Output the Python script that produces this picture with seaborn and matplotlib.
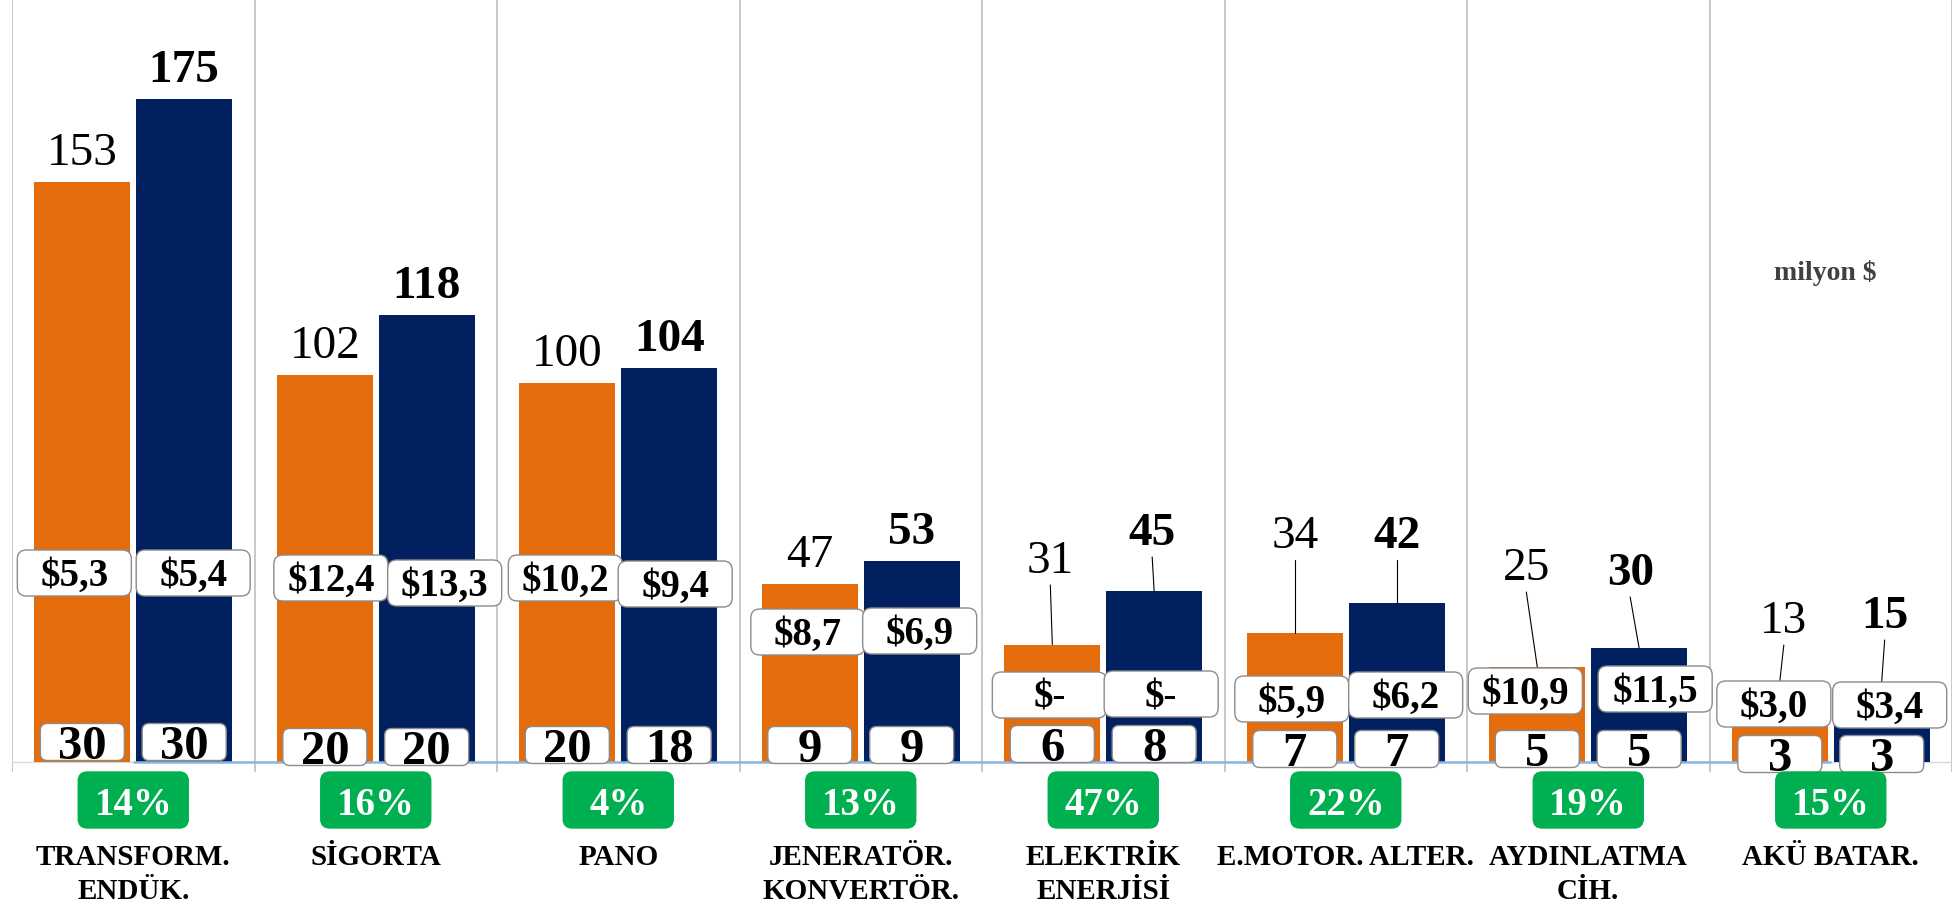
import matplotlib
matplotlib.use("Agg")
import matplotlib.pyplot as plt
from matplotlib.patches import FancyBboxPatch
import numpy as np
import pandas as pd
import seaborn as sns

# chart values
kategoriler = ["TRANSFORM.\nENDÜK.", "SİGORTA", "PANO", "JENERATÖR.\nKONVERTÖR.",
               "ELEKTRİK\nENERJİSİ", "E.MOTOR. ALTER.", "AYDINLATMA\nCİH.", "AKÜ BATAR."]
donemler = ["Önceki", "Son"]
deger_onceki = [153, 102, 100, 47, 31, 34, 25, 13]
deger_son = [175, 118, 104, 53, 45, 42, 30, 15]
dolar_onceki = ["$5,3", "$12,4", "$10,2", "$8,7", "$-", "$5,9", "$10,9", "$3,0"]
dolar_son = ["$5,4", "$13,3", "$9,4", "$6,9", "$-", "$6,2", "$11,5", "$3,4"]
adet_onceki = [30, 20, 20, 9, 6, 7, 5, 3]
adet_son = [30, 20, 18, 9, 8, 7, 5, 3]
degisim = ["14%", "16%", "4%", "13%", "47%", "22%", "19%", "15%"]

# label layout (pixel rows / pixel shifts, as placed in the original)
etiket_y_onceki = [None, None, None, None, 573, 548, 580, 633]
etiket_y_son = [None, None, None, None, 545, 548, 585, 628]
etiket_dx_onceki = [0, 0, 0, 0, -2, 0, -11, 4]
etiket_dx_son = [0, 0, 0, 0, -2, 0, -9, 3]
dolar_y_onceki = [573, 578, 578, 632, 695, 699, 691, 704]
dolar_y_son = [573, 583, 584, 631, 694, 695, 689, 705]
dolar_dx_onceki = [-8, 6, -2, -2, -3, -3, -12, -6]
dolar_dx_son = [9, 18, 6, 8, 7, 9, 16, 8]
adet_y = [742, 747, 745, 745, 744, 749, 749, 754]

TURUNCU = "#E46C0A"
LACIVERT = "#002060"
YESIL = "#00B050"
KENAR = "#8C8C8C"

W, H = 1953, 905
TABAN = 762          # baseline row in pixels
PX_Y = 3.79          # pixels per value unit
SOL = 12
PX_X = (W - 1 - SOL) / len(kategoriler)

sns.set_style("white")
plt.rcParams['font.family'] = ['Liberation Serif', 'DejaVu Serif']

fig = plt.figure(figsize=(W / 100, H / 100), dpi=100)
ax = fig.add_axes([SOL / W, 0, PX_X * len(kategoriler) / W, 1])

df = pd.DataFrame({
    "kategori": kategoriler * 2,
    "donem": [donemler[0]] * len(kategoriler) + [donemler[1]] * len(kategoriler),
    "deger": deger_onceki + deger_son,
})
sns.barplot(data=df, x="kategori", y="deger", hue="donem", palette=[TURUNCU, LACIVERT],
            width=0.84, gap=0.06, saturation=1, errorbar=None, legend=False,
            linewidth=0, ax=ax, zorder=2)

ax.set_xlim(-0.5, len(kategoriler) - 0.5)
ax.set_ylim(-(H - TABAN) / PX_Y, TABAN / PX_Y)
ax.axis("off")


def ypx(p):
    return (TABAN - p) / PX_Y


# category separators and base line
ax.vlines(np.arange(-0.5, len(kategoriler), 1), ypx(772), TABAN / PX_Y,
          colors="#BFBFBF", lw=1.2, zorder=0)
ax.hlines(0, -0.5, len(kategoriler) - 0.5, colors="#D9D9D9", lw=1, zorder=1)
ax.hlines(0, 0, len(kategoriler) - 1, colors="#8EB4E3", lw=1.8, zorder=3)


def kutu(x, y, w, h, metin, fs, fc, ec, renk, kayma, r=9):
    wd, hd = w / PX_X, h / PX_Y
    p = FancyBboxPatch((x - wd / 2, y - hd / 2), wd, hd,
                       boxstyle=f"round,pad=0,rounding_size={r / PX_X}",
                       mutation_aspect=PX_X / PX_Y, fc=fc, ec=ec, lw=1.0,
                       zorder=5, clip_on=False)
    ax.add_patch(p)
    ax.text(x, y - kayma / PX_Y, metin, ha="center", va="baseline", fontsize=fs,
            fontweight="bold", color=renk, zorder=6)


seriler = [
    (ax.containers[0], deger_onceki, dolar_onceki, adet_onceki, etiket_y_onceki,
     etiket_dx_onceki, dolar_y_onceki, dolar_dx_onceki, "normal"),
    (ax.containers[1], deger_son, dolar_son, adet_son, etiket_y_son,
     etiket_dx_son, dolar_y_son, dolar_dx_son, "bold"),
]

for bars, degerler, dolarlar, adetler, ety, etdx, dy_, ddx, agirlik in seriler:
    for i, bar in enumerate(bars):
        cx = bar.get_x() + bar.get_width() / 2
        v = degerler[i]
        # dollar box
        kutu_y = ypx(dy_[i])
        kutu(cx + ddx[i] / PX_X, kutu_y, 114, 46, dolarlar[i], 28, "white", KENAR, "black", 13)
        # count box
        kutu(cx, ypx(adet_y[i]), 84, 37, str(adetler[i]), 35, "white", KENAR, "black", 17, r=7)
        # value label
        if ety[i] is None:
            ax.text(cx, v + 17 / PX_Y, str(v), ha="center", va="baseline",
                    fontsize=34, fontweight=agirlik, color="black", zorder=6)
        else:
            lx = cx + etdx[i] / PX_X
            ly = ypx(ety[i])
            ax.text(lx, ly, str(v), ha="center", va="baseline",
                    fontsize=34, fontweight=agirlik, color="black", zorder=6)
            hedef = max(v, kutu_y + 23 / PX_Y)
            ax.plot([lx, cx], [ly - 12 / PX_Y, hedef], color="black", lw=0.8, zorder=4)

# change boxes and category names
for i, kat in enumerate(kategoriler):
    kutu(i, ypx(800), 110, 56, degisim[i], 28, YESIL, YESIL, "white", 15)
    for j, satir in enumerate(kat.split("\n")):
        ax.text(i, ypx(865 + 34 * j), satir, ha="center", va="baseline",
                fontsize=21, fontweight="bold", color="black")

fig.text(1825 / W, 1 - 280 / H, "milyon $", ha="center", va="baseline",
         fontsize=20, fontweight="bold", color="#404040")

fig.savefig("out.png", dpi=100)
